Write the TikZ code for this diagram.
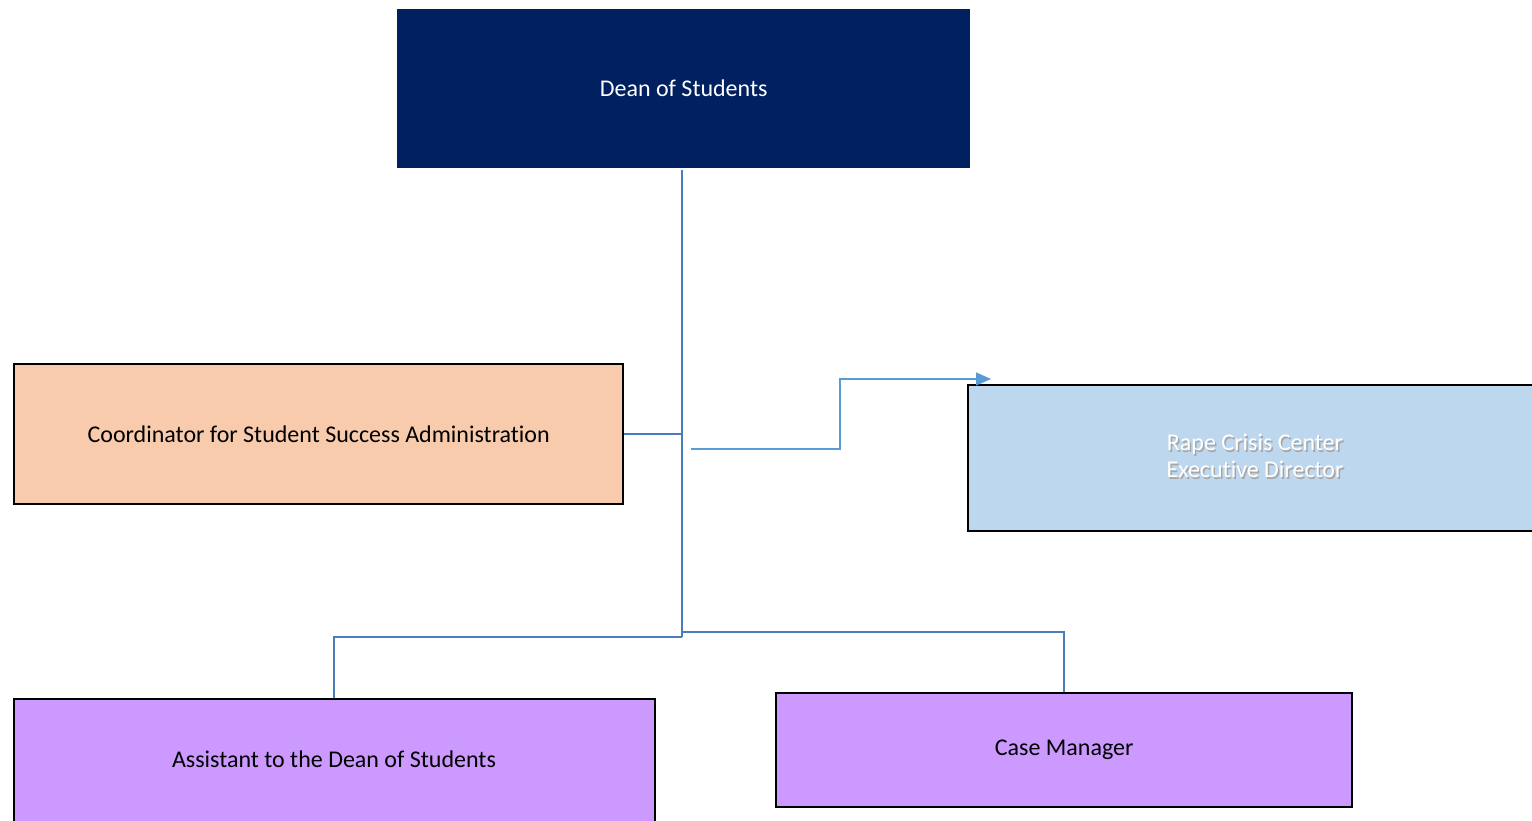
\documentclass[tikz,border=0pt]{standalone}
\usepackage{fontspec}
\setmainfont{Carlito}[Ligatures={NoCommon,NoContextual}]
\usetikzlibrary{arrows.meta}
\definecolor{deanblue}{HTML}{002060}
\definecolor{peach}{HTML}{F8CBAD}
\definecolor{lightblue}{HTML}{BDD7EE}
\definecolor{lilac}{HTML}{CC99FF}
\definecolor{conn}{HTML}{4A7EBB}
\definecolor{arrowblue}{HTML}{5B9BD5}
\begin{document}
\begin{tikzpicture}[x=1pt,y=-1pt,
  box/.style={draw=black,line width=2.4pt,anchor=north west,inner sep=0pt,font=\fontsize{24}{29}\selectfont,align=center},
  label/.style={font=\fontsize{24}{27}\selectfont,align=center},
  link/.style={draw=conn,line width=2.4pt},
  thin/.style={draw=arrowblue,line width=1.4pt}]
\useasboundingbox (0,0) rectangle (1532,821);
\clip (0,0) rectangle (1532,821);
\fill[white] (0,0) rectangle (1532,821);
% nodes
\node[box,draw=none,fill=deanblue,text=white,minimum width=573pt,minimum height=159pt] (dean) at (396,8) {Dean of Students};
\node[box,fill=peach,minimum width=609pt,minimum height=140pt] (coord) at (13,363) {Coordinator for Student Success Administration};
\node[box,fill=lightblue,minimum width=600pt,minimum height=146pt] (rape) at (967,384) {};
\node[box,fill=lilac,minimum width=641pt,minimum height=140pt] (asst) at (13,698) {};
\node[box,fill=lilac,minimum width=576pt,minimum height=114pt] (case) at (775,692) {Case Manager};
% texts
\node[label,text=black!35] (rapeshadow) at (1256.5,457.5) {Rape Crisis Center\\Executive Director};
\node[label,text=white] (rapetext) at (1255,456) {Rape Crisis Center\\Executive Director};
\node[label] (assttext) at (334,759) {Assistant to the Dean of Students};
% connector coordinates
\coordinate (top) at (682,170);
\coordinate (bot) at (682,637);
\coordinate (botc) at (682,632);
\coordinate (astart) at (691,449);
\coordinate (aend) at (991,379);
\draw[link] (top) -- (bot);
\draw[link] (coord.east) -- (coord.east -| top);
\draw[link] (bot) -| (asst.north -| 334,0);
\draw[link] (botc) -| (case.north);
\draw[thin,-{Triangle[length=15pt,width=13pt]}] (astart) -- (840,449) -- (840,379) -- (aend);
\end{tikzpicture}
\end{document}
